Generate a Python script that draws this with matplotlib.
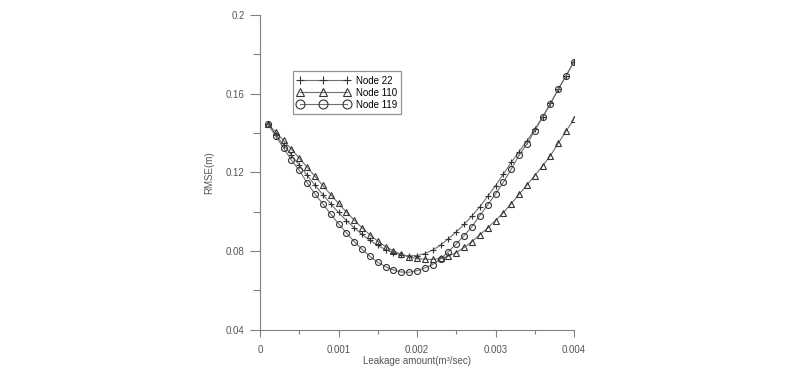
import matplotlib
matplotlib.use("Agg")
import matplotlib.pyplot as plt

plt.rcParams['font.family'] = ['Liberation Sans', 'DejaVu Sans']

# leakage amounts (m3/sec)
leak = [0.0001, 0.0002, 0.0003, 0.0004, 0.0005, 0.0006, 0.0007, 0.0008, 0.0009, 0.0010,
        0.0011, 0.0012, 0.0013, 0.0014, 0.0015, 0.0016, 0.0017, 0.0018, 0.0019, 0.0020,
        0.0021, 0.0022, 0.0023, 0.0024, 0.0025, 0.0026, 0.0027, 0.0028, 0.0029, 0.0030,
        0.0031, 0.0032, 0.0033, 0.0034, 0.0035, 0.0036, 0.0037, 0.0038, 0.0039, 0.0040]

node22 = [0.1446, 0.1392, 0.1340, 0.1288, 0.1236, 0.1185, 0.1135, 0.1087, 0.1040, 0.0996,
          0.0955, 0.0918, 0.0884, 0.0854, 0.0828, 0.0807, 0.0791, 0.0780, 0.0775, 0.0777,
          0.0787, 0.0805, 0.0830, 0.0862, 0.0897, 0.0935, 0.0978, 0.1025, 0.1078, 0.1132,
          0.1190, 0.1250, 0.1305, 0.1360, 0.1418, 0.1482, 0.1550, 0.1622, 0.1692, 0.1763]

node110 = [0.1446, 0.1405, 0.1362, 0.1318, 0.1272, 0.1226, 0.1180, 0.1133, 0.1087, 0.1042,
           0.0998, 0.0957, 0.0918, 0.0882, 0.0850, 0.0822, 0.0800, 0.0783, 0.0770, 0.0762,
           0.0758, 0.0757, 0.0762, 0.0774, 0.0792, 0.0818, 0.0848, 0.0882, 0.0917, 0.0955,
           0.0995, 0.1040, 0.1088, 0.1136, 0.1183, 0.1233, 0.1285, 0.1348, 0.1410, 0.1471]

node119 = [0.1446, 0.1385, 0.1324, 0.1262, 0.1210, 0.1147, 0.1090, 0.1040, 0.0988, 0.0939,
           0.0892, 0.0848, 0.0809, 0.0773, 0.0743, 0.0720, 0.0704, 0.0693, 0.0692, 0.0700,
           0.0714, 0.0731, 0.0760, 0.0797, 0.0836, 0.0878, 0.0924, 0.0980, 0.1034, 0.1090,
           0.1149, 0.1216, 0.1287, 0.1344, 0.1412, 0.1480, 0.1549, 0.1622, 0.1691, 0.1763]

x_ticks = [0, 0.001, 0.002, 0.003, 0.004]
x_labels = ["0", "0.001", "0.002", "0.003", "0.004"]
y_ticks = [0.04, 0.08, 0.12, 0.16, 0.2]
y_labels = ["0.04", "0.08", "0.12", "0.16", "0.2"]

series = [("Node 22", node22, "+"), ("Node 110", node110, "^"), ("Node 119", node119, "o")]

fig = plt.figure(figsize=(8, 3.74), dpi=100)
ax = fig.add_axes([0.325, 0.1185, 0.3925, 0.8415])

for name, vals, mk in series:
    ax.plot(leak, vals, color="#707070", lw=0.8, marker=mk, markersize=4.3,
            markerfacecolor="none", markeredgecolor="#333333", markeredgewidth=0.8,
            label=name)

ax.set_xlim(0, 0.004)
ax.set_ylim(0.04, 0.2)
ax.set_xticks(x_ticks, x_labels)
ax.set_yticks(y_ticks, y_labels)
ax.set_xticks([0.0005, 0.0015, 0.0025, 0.0035], minor=True)
ax.set_yticks([0.06, 0.1, 0.14, 0.18], minor=True)

for s in ["top", "right"]:
    ax.spines[s].set_visible(False)
for s in ["left", "bottom"]:
    ax.spines[s].set_color("#808080")
    ax.spines[s].set_linewidth(0.8)

ax.tick_params(axis="y", which="major", length=7, width=0.8, color="#808080",
               labelsize=7, labelcolor="#555555", pad=4)
ax.tick_params(axis="y", which="minor", length=5, width=0.8, color="#808080")
ax.tick_params(axis="x", which="major", length=5, width=0.8, color="#808080",
               labelsize=7, labelcolor="#555555", pad=6)
ax.tick_params(axis="x", which="minor", length=3, width=0.8, color="#808080")

ax.set_xlabel("Leakage amount(m\u00b3/sec)", fontsize=7, color="#555555", labelpad=1)
ax.set_ylabel("RMSE(m)", fontsize=7, color="#555555", labelpad=8)

leg = ax.legend(loc="upper left", bbox_to_anchor=(0.089, 0.836), numpoints=3,
                fontsize=7, frameon=True, fancybox=False, markerscale=1.5,
                handlelength=5.4, handletextpad=0.6, borderpad=0.45, labelspacing=0.2)
leg.get_frame().set_edgecolor("#777777")
leg.get_frame().set_linewidth(0.9)

fig.savefig("out.png", dpi=100, facecolor="white")
